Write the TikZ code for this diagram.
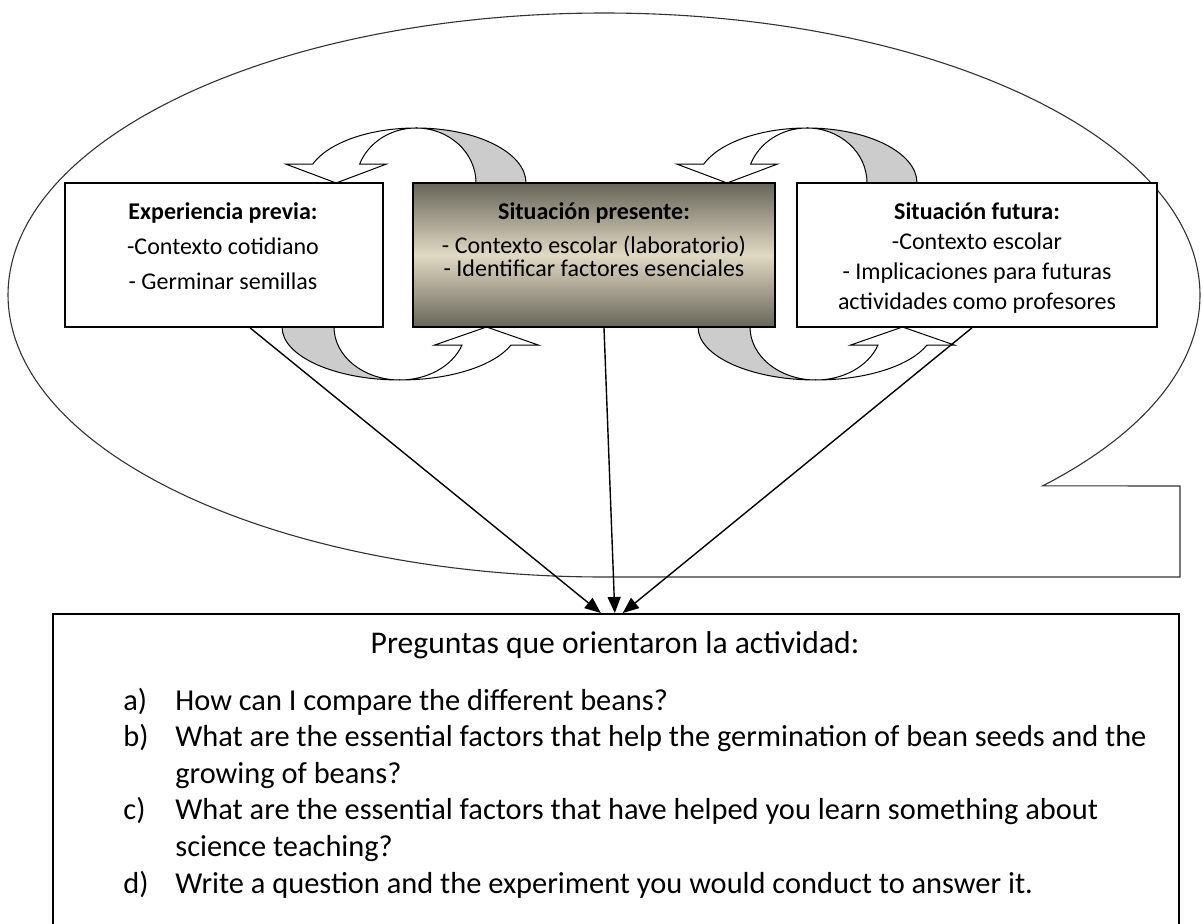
\documentclass[tikz,border=0pt]{standalone}
\usepackage{fontspec}
\setmainfont{Carlito}
\usetikzlibrary{arrows.meta, positioning}

\definecolor{boxdark}{RGB}{104,101,88}
\definecolor{boxlight}{RGB}{224,217,195}
\definecolor{bandgray}{RGB}{204,204,204}

\begin{document}
\begin{tikzpicture}[
    x=0.5pt, y=-0.5pt,
    >={Triangle[length=8pt, width=6.5pt]},
    % Core styles
    ctxbox/.style={
        draw=black, fill=white, line width=0.8pt,
        minimum height=72pt, inner sep=0pt
    },
    ctxtext/.style={align=center, inner sep=0pt, font=\fontsize{12}{#1}\selectfont},
    ctxtext/.default=15,
    bandback/.style={fill=bandgray, draw=black, line width=0.5pt},
    bandfront/.style={fill=white, draw=black, line width=0.5pt},
    outline/.style={draw=black!80, line width=0.55pt},
    link/.style={->, line width=0.7pt},
    qbox/.style={draw=black, line width=0.8pt, minimum width=563pt, minimum height=175pt},
    qtitle/.style={inner sep=0pt, font=\fontsize{15.8}{18.3}\selectfont},
    qlist/.style={inner sep=0pt, font=\fontsize{15.2}{18.3}\selectfont}
]
\useasboundingbox (0,0) rectangle (1203,924);
\clip (0,0) rectangle (1203,924);

% === OUTER BALLOON ===
\path[outline] (604,295) ++(42.6:596 and 282)
    arc[start angle=42.6, end angle=-270, x radius=596, y radius=282]
    -- (1180,577) -- (1180,486) -- cycle;

% === CURVED ARROWS ABOVE THE BOXES ===
% presente -> previa
\filldraw[bandback] (416,128) arc[start angle=-90, end angle=0, x radius=110, y radius=55]
    -- (476,183) arc[start angle=0, end angle=-90, x radius=60, y radius=55] -- cycle;
\filldraw[bandfront] (416,128) arc[start angle=-90, end angle=-160, x radius=110, y radius=55]
    -- (286.1,164.2) -- (336.1,183) -- (386.1,164.2) -- (359.6,164.2)
    arc[start angle=-160, end angle=-90, x radius=60, y radius=55] -- cycle;
% futura -> presente
\filldraw[bandback] (807,128) arc[start angle=-90, end angle=0, x radius=110, y radius=55]
    -- (867,183) arc[start angle=0, end angle=-90, x radius=60, y radius=55] -- cycle;
\filldraw[bandfront] (807,128) arc[start angle=-90, end angle=-160, x radius=110, y radius=55]
    -- (677.1,164.2) -- (727.1,183) -- (777.1,164.2) -- (750.6,164.2)
    arc[start angle=-160, end angle=-90, x radius=60, y radius=55] -- cycle;

% === CURVED ARROWS BELOW THE BOXES ===
% previa -> presente
\filldraw[bandback] (282,327) arc[start angle=180, end angle=90, x radius=118, y radius=53]
    arc[start angle=90, end angle=180, x radius=66, y radius=53] -- cycle;
\filldraw[bandfront] (400,380) arc[start angle=90, end angle=20, x radius=118, y radius=53]
    -- (538.5,345.1) -- (486.5,327) -- (434.5,345.1) -- (462,345.1)
    arc[start angle=20, end angle=90, x radius=66, y radius=53] -- cycle;
% presente -> futura
\filldraw[bandback] (698,327) arc[start angle=180, end angle=90, x radius=118, y radius=53]
    arc[start angle=90, end angle=180, x radius=66, y radius=53] -- cycle;
\filldraw[bandfront] (816,380) arc[start angle=90, end angle=20, x radius=118, y radius=53]
    -- (954.5,345.1) -- (902.5,327) -- (850.5,345.1) -- (878,345.1)
    arc[start angle=20, end angle=90, x radius=66, y radius=53] -- cycle;

% === CONTEXT BOXES ===
\node[ctxbox, minimum width=159pt] (previa) at (224,255) {};
\node[ctxtext=17.5] (previaTxt) at (223,246)
    {\textbf{Experiencia previa:}\\-Contexto cotidiano\\- Germinar semillas};

\node[ctxbox, minimum width=181pt, top color=boxdark, bottom color=boxdark,
      middle color=boxlight] (presente) at (594,255) {};
\node[ctxtext=11.5] (presenteTxt) at (594,240)
    {\textbf{Situación presente:}\\[5.5pt]- Contexto escolar (laboratorio)\\- Identificar factores esenciales};

\node[ctxbox, minimum width=180pt] (futura) at (977,255) {};
\node[ctxtext=15] (futuraTxt) at (977,258)
    {\textbf{Situación futura:}\\-Contexto escolar\\- Implicaciones para futuras\\actividades como profesores};

% === GUIDING QUESTIONS ===
\node[qbox, anchor=north west] (preguntas) at (52,613) {};
\node[qtitle] (pregTitulo) at (615,645) {Preguntas que orientaron la actividad:};
\node[qlist, anchor=base west] (pregLista) at (123,710) {%
    \begin{tabular}[t]{@{}p{26pt}@{}l@{}}
    a) & How can I compare the different beans?\\
    b) & What are the essential factors that help the germination of bean seeds and the\\
       & growing of beans?\\
    c) & What are the essential factors that have helped you learn something about\\
       & science teaching?\\
    d) & Write a question and the experiment you would conduct to answer it.
    \end{tabular}};

% === LINKS TO THE QUESTIONS ===
\draw[link] ([xshift=13pt]previa.south) -- ([xshift=-7.5pt]preguntas.north);
\draw[link] ([xshift=5pt]presente.south) -- ([xshift=-0.5pt]preguntas.north);
\draw[link] ([xshift=-2.5pt]futura.south) -- ([xshift=3.5pt]preguntas.north);

\end{tikzpicture}
\end{document}
